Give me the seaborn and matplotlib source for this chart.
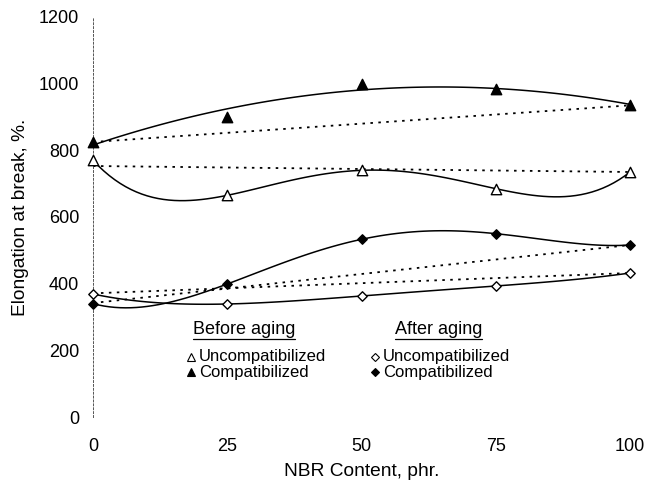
import numpy as np
import pandas as pd
import matplotlib
matplotlib.use("Agg")
import matplotlib.pyplot as plt
import seaborn as sns

# ---- data ----
nbr = [0, 25, 50, 75, 100]
before_uncomp = [770, 665, 740, 685, 735]
before_comp = [825, 900, 1000, 985, 935]
after_uncomp = [369, 339, 363, 393, 432]
after_comp = [340, 399, 533, 550, 516]
# dotted reference lines (start value at 0 phr, end value at 100 phr)
dotted_x = [0, 100]
dotted_before_uncomp = [753, 735]
dotted_before_comp = [825, 935]
dotted_after_uncomp = [371, 432]
dotted_after_comp = [342, 516]
y_ticks = [0, 200, 400, 600, 800, 1000, 1200]
x_ticks = [0, 25, 50, 75, 100]

sns.set_theme(style="white")
plt.rcParams["font.family"] = ["Liberation Sans", "DejaVu Sans"]
plt.rcParams["text.color"] = "black"
plt.rcParams["axes.labelcolor"] = "black"
plt.rcParams["xtick.color"] = "black"
plt.rcParams["ytick.color"] = "black"

fig = plt.figure(figsize=(6.47, 4.84), dpi=100)
ax = fig.add_axes([93/647, 1-417/484, (630-93)/647, 400/484])

series = [
    (before_uncomp, dotted_before_uncomp, "^", "white", 7.5, 4),
    (before_comp, dotted_before_comp, "^", "black", 7.5, 2),
    (after_uncomp, dotted_after_uncomp, "D", "white", 4.8, 4),
    (after_comp, dotted_after_comp, "D", "black", 4.8, 4),
]

for vals, dvals, mk, fc, ms, order in series:
    df = pd.DataFrame({"x": nbr, "y": vals})
    sns.regplot(data=df, x="x", y="y", order=order, ci=None, scatter=False,
                ax=ax, line_kws=dict(color="black", lw=1.1), truncate=True)
    dd = pd.DataFrame({"x": dotted_x, "y": dvals})
    sns.lineplot(data=dd, x="x", y="y", ax=ax, color="black", lw=1.3,
                 linestyle=(0, (1.4, 3.0)))
    sns.scatterplot(data=df, x="x", y="y", ax=ax, marker=mk, s=ms**2,
                    facecolor=fc, edgecolor="black", linewidth=1.0,
                    zorder=5, clip_on=False)

ax.set_xlim(0, 100)
ax.set_ylim(0, 1200)
ax.set_xticks(x_ticks)
ax.set_yticks(y_ticks)
ax.set_xticklabels([str(v) for v in x_ticks], fontsize=13)
ax.set_yticklabels([str(v) for v in y_ticks], fontsize=13)
ax.tick_params(axis="y", length=0, pad=10)
ax.tick_params(axis="x", length=2, width=0.6, color="#999999", pad=13)
for s in ["top", "right", "bottom"]:
    ax.spines[s].set_visible(False)
ax.spines["left"].set_linestyle((0, (2, 2)))
ax.spines["left"].set_linewidth(0.7)
ax.spines["left"].set_color("#555555")
ax.set_xlabel("NBR Content, phr.", fontsize=13.8, labelpad=6)
ax.set_ylabel("Elongation at break, %.", fontsize=13.8, labelpad=7)

# ---- custom legend ----
def tx(px):
    return (px - 93) / (630 - 93)

def ty(py):
    return (417 - py) / 400

fig.canvas.draw()
r = fig.canvas.get_renderer()
for label, px in [("Before aging", 193), ("After aging", 395)]:
    t = ax.text(tx(px), ty(329), label, transform=ax.transAxes,
                fontsize=13, ha="left", va="center")
    bb = t.get_window_extent(r).transformed(ax.transAxes.inverted())
    ax.plot([bb.x0, bb.x1], [bb.y0 - 0.004, bb.y0 - 0.004], color="black",
            lw=0.9, transform=ax.transAxes, clip_on=False)

entries = [
    (191, 357, "^", "white", "Uncompatibilized", 5.5),
    (191, 372, "^", "black", "Compatibilized", 5.5),
    (375, 357, "D", "white", "Uncompatibilized", 4.0),
    (375, 372, "D", "black", "Compatibilized", 4.0),
]
for px, py, mk, fc, label, ms in entries:
    ax.plot([tx(px)], [ty(py)], marker=mk, ms=ms, mfc=fc, mec="black",
            mew=0.8, transform=ax.transAxes, clip_on=False, ls="none")
    ax.text(tx(px + 8), ty(py), label, transform=ax.transAxes,
            fontsize=12, ha="left", va="center")

fig.savefig("out.png", dpi=100)
